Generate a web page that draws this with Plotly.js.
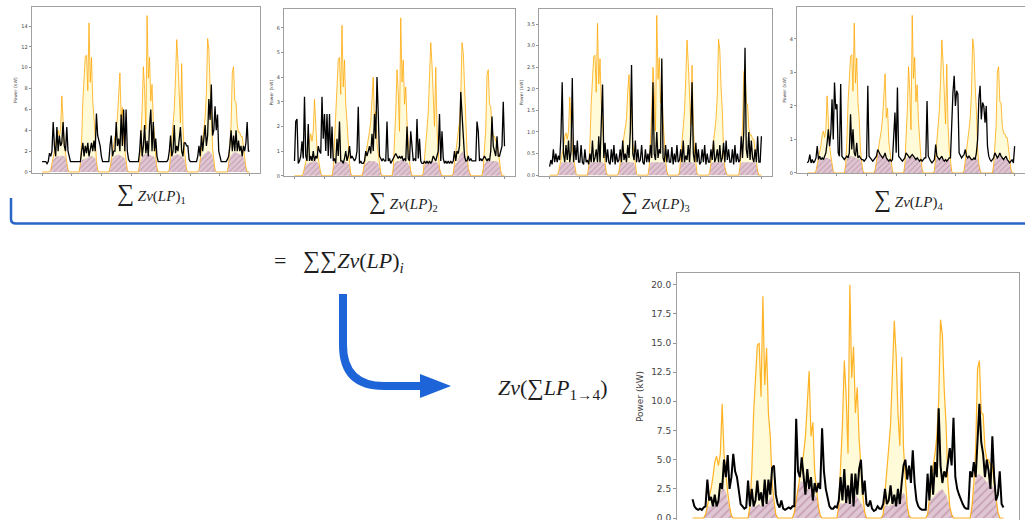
<!DOCTYPE html>
<html><head><meta charset="utf-8">
<script src="https://cdn.plot.ly/plotly-3.0.1.min.js"></script>
<style>html,body{margin:0;padding:0;background:#fff;}#chart{width:1025px;height:520px;}</style>
</head><body><div id="chart"></div>
<script>
// hour index (7 days x 24 h + end point)
const hours = Array.from({length:169}, (_, i) => i);
const dayTicks = [0,24,48,72,96,120,144,168];

// ---- Chart 1 ----
const pv1 = [
0,0,0,0,0,0,0, 0.2,0.8,1.4,1.9,2.6,3.6,4.0,3.4,4.1,7.3,4.1,2.6,1.7,0.8,0.2, 0,0,
0,0,0,0,0,0,0, 0.8,3.0,6.8,9.0,11.1,11.2,7.8,14.3,8.6,11.0,6.8,5.3,2.3,1.1,0.2, 0,0,
0,0,0,0,0,0,0, 0.4,1.1,1.9,2.6,3.4,4.1,5.3,7.9,9.5,5.3,6.2,3.0,1.9,0.8,0.2, 0,0,
0,0,0,0,0,0,0, 0.8,3.0,6.0,10.1,7.9,4.1,15.0,9.0,11.0,6.8,8.4,5.1,3.0,1.5,0.4, 0,0,
0,0,0,0,0,0,0, 0.2,1.5,3.0,4.5,6.0,9.0,12.7,10.5,6.8,4.7,10.4,4.5,2.3,0.8,0.2, 0,0,
0,0,0,0,0,0,0, 0.2,1.1,2.3,3.4,4.1,5.3,7.5,12.8,11.8,8.3,6.0,2.3,0.8,0.2,0, 0,0,
0,0,0,0,0,0,0, 0.8,2.3,4.5,9.6,10.1,6.8,6.7,4.5,3.8,3.8,3.4,3.4,2.3,1.1,0.4, 0,0, 0];
const load1 = [
1.0,1.0,1.0,1.0,0.8,1.0,1.8,1.5,2.0,4.8,2.5,1.5,4.3,2.0,3.5,2.5,2.8,4.8,2.5,2.0,4.3,2.0,1.5,1.0,
1.0,1.0,1.0,1.0,1.0,1.0,1.0,1.0,2.0,2.8,1.5,2.5,1.8,2.8,1.5,2.2,2.8,2.0,3.0,2.0,5.6,3.5,3.0,2.5,
1.5,1.0,1.0,1.0,1.0,1.0,1.0,2.5,3.5,1.5,2.0,2.0,4.8,2.5,3.2,2.0,5.5,2.5,6.0,2.0,6.0,2.0,1.2,1.0,
1.0,1.0,1.0,1.0,1.0,1.0,1.0,2.0,4.0,1.5,2.5,4.5,1.8,3.0,1.5,4.5,6.0,2.0,4.8,2.0,3.2,1.5,1.0,1.0,
1.0,1.0,1.0,1.0,1.0,1.0,1.2,2.0,3.5,1.5,2.0,4.5,1.8,2.5,2.0,3.0,4.3,2.0,1.5,2.8,2.8,2.5,2.5,1.2,
1.0,1.0,1.0,1.0,1.0,1.0,1.5,2.5,1.5,3.5,2.0,3.0,4.5,2.5,3.5,7.0,5.0,8.4,3.5,4.0,6.3,4.0,5.5,2.0,
1.5,1.0,1.0,1.0,1.0,1.0,1.2,1.5,2.5,4.0,2.0,3.5,2.0,4.0,2.0,3.0,2.0,2.5,1.5,2.5,2.0,2.8,4.8,2.0, 2.0];
const self1 = [
0,0,0,0,0,0,0, 0.2,0.8,1.2,1.3,1.4,1.5,1.5,1.5,1.5,1.6,1.5,1.5,1.4,0.8,0.2, 0,0,
0,0,0,0,0,0,0, 0.8,1.1,1.2,1.2,1.3,1.3,1.4,1.4,1.5,1.5,1.5,1.4,1.3,1.0,0.2, 0,0,
0,0,0,0,0,0,0, 0.4,1.1,1.3,1.4,1.5,1.6,1.6,1.7,1.6,1.5,1.5,1.4,1.3,0.8,0.2, 0,0,
0,0,0,0,0,0,0, 0.8,1.3,1.5,1.6,1.7,1.7,1.8,1.8,1.7,1.6,1.5,1.5,1.4,1.0,0.4, 0,0,
0,0,0,0,0,0,0, 0.2,1.2,1.4,1.5,1.6,1.6,1.7,1.7,1.6,1.6,1.5,1.4,1.3,0.8,0.2, 0,0,
0,0,0,0,0,0,0, 0.2,1.1,1.4,1.5,1.7,1.8,1.9,2.0,2.0,1.9,1.8,1.5,0.8,0.2,0, 0,0,
0,0,0,0,0,0,0, 0.8,1.4,1.6,1.8,1.9,1.9,1.9,1.8,1.8,1.7,1.6,1.5,1.4,1.0,0.4, 0,0, 0];

// ---- Chart 2 ----
const pv2 = [
0,0,0,0,0,0,0, 0.1,0.3,0.6,0.8,1.1,1.5,1.7,1.4,1.8,3.1,1.8,1.1,0.7,0.3,0.1, 0,0,
0,0,0,0,0,0,0, 0.3,1.3,2.9,3.8,4.7,4.8,3.3,6.1,3.6,4.7,2.9,2.2,1.0,0.5,0.1, 0,0,
0,0,0,0,0,0,0, 0.2,0.5,0.8,1.1,1.4,1.8,2.2,3.4,4.0,2.2,2.6,1.3,0.8,0.3,0.1, 0,0,
0,0,0,0,0,0,0, 0.3,1.3,2.6,4.3,3.4,1.8,6.4,3.8,4.7,2.9,3.6,2.2,1.3,0.6,0.2, 0,0,
0,0,0,0,0,0,0, 0.1,0.6,1.3,1.9,2.6,3.8,5.4,4.5,2.9,2.0,4.4,1.9,1.0,0.3,0.1, 0,0,
0,0,0,0,0,0,0, 0.1,0.5,1.0,1.4,1.8,2.2,3.2,5.4,5.0,3.5,2.6,1.0,0.3,0.1,0, 0,0,
0,0,0,0,0,0,0, 0.3,1.0,1.9,4.1,4.3,2.9,2.8,1.9,1.6,1.6,1.4,1.4,1.0,0.5,0.2, 0,0, 0];
const load2 = [
0.6,2.2,2.3,0.5,0.6,0.8,1.4,0.7,3.2,0.8,0.6,2.1,0.6,0.8,0.6,1.0,0.6,0.8,0.7,1.2,1.0,0.9,3.2,1.5,
2.5,1.0,2.5,0.8,2.5,0.7,2.0,0.6,0.7,0.5,1.5,0.8,2.2,0.6,0.6,0.5,0.7,1.0,0.6,0.8,1.2,0.7,0.8,0.7,
0.6,0.7,1.0,2.8,0.5,0.6,0.5,0.5,0.6,1.0,0.8,1.0,1.2,0.9,1.7,1.0,2.5,1.5,4.0,2.5,0.8,0.7,0.6,0.7,
0.6,0.6,2.2,0.6,0.7,0.5,0.6,0.7,0.8,0.9,0.8,0.7,0.8,0.7,0.8,0.6,0.7,0.6,2.0,0.7,0.6,1.8,1.2,0.6,
0.7,0.6,2.3,0.7,1.5,0.6,0.5,0.5,0.6,0.5,0.6,0.5,0.6,0.5,0.6,0.8,0.7,0.6,0.8,1.0,2.5,0.6,1.8,0.7,
0.5,0.6,0.5,0.6,0.5,0.6,0.5,0.6,1.0,0.6,1.0,0.9,1.2,3.4,2.5,1.3,0.8,0.6,0.6,0.8,0.6,0.7,0.6,0.6,
0.6,0.6,2.2,1.8,0.6,0.7,0.6,0.7,0.8,0.7,0.6,0.7,0.6,1.0,2.4,1.2,1.0,0.8,1.6,0.8,0.8,1.0,1.2,3.0, 1.2];
const self2 = [
0,0,0,0,0,0,0, 0.1,0.3,0.45,0.5,0.5,0.55,0.55,0.55,0.6,0.6,0.6,0.55,0.5,0.3,0.1, 0,0,
0,0,0,0,0,0,0, 0.3,0.45,0.5,0.55,0.55,0.55,0.6,0.6,0.6,0.6,0.55,0.55,0.5,0.4,0.1, 0,0,
0,0,0,0,0,0,0, 0.2,0.45,0.5,0.55,0.6,0.6,0.6,0.6,0.6,0.6,0.55,0.55,0.5,0.3,0.1, 0,0,
0,0,0,0,0,0,0, 0.3,0.5,0.55,0.6,0.6,0.6,0.65,0.65,0.6,0.6,0.6,0.55,0.5,0.4,0.15, 0,0,
0,0,0,0,0,0,0, 0.1,0.45,0.5,0.55,0.55,0.55,0.6,0.6,0.6,0.55,0.55,0.55,0.5,0.3,0.1, 0,0,
0,0,0,0,0,0,0, 0.1,0.4,0.5,0.55,0.7,0.8,0.9,1.0,0.9,0.8,0.7,0.6,0.3,0.1,0, 0,0,
0,0,0,0,0,0,0, 0.3,0.5,0.55,0.6,0.6,0.6,0.6,0.6,0.6,0.6,0.6,0.6,0.55,0.4,0.15, 0,0, 0];

// ---- Chart 3 ----
const pv3 = [
0,0,0,0,0,0,0, 0.06,0.19,0.33,0.46,0.65,0.89,0.98,0.83,1.02,1.81,1.02,0.65,0.41,0.19,0.04, 0,0,
0,0,0,0,0,0,0, 0.19,0.74,1.67,2.22,2.74,2.78,1.92,3.52,2.11,2.70,1.67,1.30,0.56,0.28,0.06, 0,0,
0,0,0,0,0,0,0, 0.09,0.28,0.46,0.65,0.83,1.02,1.30,1.94,2.33,1.30,1.52,0.74,0.46,0.19,0.04, 0,0,
0,0,0,0,0,0,0, 0.19,0.74,1.48,2.50,1.94,1.02,3.70,2.22,2.72,1.67,2.07,1.26,0.74,0.37,0.09, 0,0,
0,0,0,0,0,0,0, 0.06,0.37,0.74,1.11,1.48,2.22,3.13,2.59,1.67,1.15,2.55,1.11,0.56,0.19,0.04, 0,0,
0,0,0,0,0,0,0, 0.06,0.28,0.56,0.83,1.02,1.30,1.85,3.15,2.90,2.04,1.48,0.56,0.19,0.06,0, 0,0,
0,0,0,0,0,0,0, 0.19,0.56,1.11,2.37,2.50,1.67,1.65,1.11,0.93,0.93,0.83,0.83,0.56,0.28,0.09, 0,0, 0];
const load3 = [
0.2,0.35,0.25,0.6,0.3,0.5,0.3,0.45,0.35,0.9,2.15,0.5,0.3,0.7,0.35,0.8,0.3,0.55,2.25,0.3,0.7,0.35,0.8,0.3,
0.3,0.7,0.3,0.25,0.6,0.3,0.35,0.25,0.5,0.3,0.8,0.3,0.4,0.6,0.3,0.9,0.3,1.45,2.1,0.4,0.75,0.3,0.6,0.3,
0.25,0.6,0.3,0.7,0.25,0.5,0.3,0.35,0.6,0.3,0.8,0.35,0.5,0.3,0.7,0.4,1.0,2.55,0.5,0.35,0.8,0.3,0.6,0.3,
0.35,0.7,0.3,0.25,0.6,0.3,0.5,0.3,0.7,0.4,2.15,0.5,0.35,1.0,0.4,0.6,0.5,2.7,0.4,0.3,0.7,0.3,0.6,0.3,
0.3,0.65,0.25,0.5,0.3,0.7,0.3,0.35,0.6,0.3,0.8,0.3,0.45,0.35,0.7,0.3,1.0,2.15,0.5,0.3,0.75,0.3,0.6,0.25,
0.3,0.6,0.3,0.7,0.25,0.5,0.3,0.3,0.6,0.35,0.8,0.3,0.4,0.6,0.3,0.7,0.3,0.4,0.75,0.3,0.8,0.35,0.6,0.3,
0.3,0.6,0.25,0.7,0.3,0.5,0.3,0.35,0.9,0.4,1.0,2.95,0.6,0.4,1.0,0.35,0.8,0.4,0.3,0.6,0.3,0.9,0.3,0.3, 0.9];
const self3 = [
0,0,0,0,0,0,0, 0.06,0.19,0.28,0.3,0.3,0.3,0.3,0.3,0.3,0.3,0.3,0.3,0.28,0.19,0.04, 0,0,
0,0,0,0,0,0,0, 0.19,0.28,0.3,0.3,0.3,0.3,0.3,0.3,0.3,0.3,0.3,0.3,0.28,0.25,0.06, 0,0,
0,0,0,0,0,0,0, 0.09,0.25,0.3,0.3,0.3,0.3,0.3,0.3,0.3,0.3,0.3,0.3,0.28,0.19,0.04, 0,0,
0,0,0,0,0,0,0, 0.19,0.28,0.3,0.3,0.3,0.3,0.3,0.3,0.3,0.3,0.3,0.3,0.3,0.25,0.09, 0,0,
0,0,0,0,0,0,0, 0.06,0.28,0.3,0.3,0.3,0.3,0.3,0.3,0.3,0.3,0.3,0.3,0.28,0.19,0.04, 0,0,
0,0,0,0,0,0,0, 0.06,0.25,0.3,0.3,0.3,0.3,0.3,0.3,0.3,0.3,0.3,0.3,0.19,0.06,0, 0,0,
0,0,0,0,0,0,0, 0.19,0.28,0.3,0.3,0.3,0.3,0.3,0.3,0.3,0.3,0.3,0.3,0.3,0.25,0.09, 0,0, 0];

// ---- Chart 4 ----
const pv4 = [
0,0,0,0,0,0,0, 0.07,0.24,0.42,0.59,0.82,1.13,1.25,1.06,1.29,2.30,1.29,0.82,0.52,0.24,0.05, 0,0,
0,0,0,0,0,0,0, 0.24,0.94,2.12,2.82,3.48,3.53,2.44,4.47,2.68,3.43,2.12,1.65,0.71,0.35,0.07, 0,0,
0,0,0,0,0,0,0, 0.12,0.35,0.59,0.82,1.06,1.29,1.65,2.47,2.96,1.65,1.93,0.94,0.59,0.24,0.05, 0,0,
0,0,0,0,0,0,0, 0.24,0.94,1.88,3.17,2.47,1.29,4.70,2.82,3.45,2.12,2.63,1.60,0.94,0.47,0.12, 0,0,
0,0,0,0,0,0,0, 0.07,0.47,0.94,1.41,1.88,2.82,3.97,3.29,2.12,1.46,3.24,1.41,0.71,0.24,0.05, 0,0,
0,0,0,0,0,0,0, 0.07,0.35,0.71,1.06,1.29,1.65,2.35,4.00,3.69,2.59,1.88,0.71,0.24,0.07,0, 0,0,
0,0,0,0,0,0,0, 0.24,0.71,1.41,3.01,3.17,2.12,2.09,1.41,1.18,1.18,1.06,1.06,0.71,0.35,0.12, 0,0, 0];
const load4 = [
0.3,0.35,0.55,0.3,0.4,0.3,0.35,0.45,0.8,0.4,0.5,0.4,0.45,0.4,0.5,0.6,0.9,1.3,0.8,1.2,2.2,1.0,2.7,1.9,
2.05,0.6,0.5,2.65,0.5,0.45,0.4,0.45,0.5,0.45,0.6,1.75,0.7,1.3,0.6,0.5,0.9,0.45,0.5,0.45,0.4,0.4,0.35,0.4,
0.45,2.6,0.5,0.45,0.4,0.35,0.4,0.45,0.5,0.7,0.6,0.55,0.5,0.45,0.5,0.6,0.45,0.4,0.35,0.4,0.35,0.4,1.0,1.8,
0.6,2.55,0.5,0.45,0.4,0.35,0.4,0.45,0.6,0.55,0.5,0.45,0.5,0.55,0.5,0.45,0.4,0.45,0.4,0.35,0.4,0.35,0.4,0.45,
0.45,2.15,0.5,0.4,0.35,0.3,0.35,0.4,0.85,0.5,0.45,0.4,0.45,0.5,0.4,0.35,0.4,0.35,0.4,0.45,0.45,1.5,2.4,2.9,
2.0,2.45,2.35,0.6,0.5,0.45,0.5,0.55,0.7,0.5,0.45,0.5,0.45,0.4,0.4,0.45,0.4,0.6,1.0,2.2,2.6,1.6,2.1,2.0,
1.5,2.0,0.8,0.5,0.4,0.35,0.4,0.45,0.6,0.5,0.45,0.5,0.6,0.5,0.45,0.4,0.45,0.5,0.4,0.35,0.3,0.35,0.4,0.3, 0.8];
const self4 = [
0,0,0,0,0,0,0, 0.07,0.24,0.38,0.4,0.42,0.42,0.45,0.45,0.45,0.45,0.45,0.42,0.4,0.24,0.05, 0,0,
0,0,0,0,0,0,0, 0.24,0.4,0.45,0.5,0.5,0.5,0.5,0.48,0.45,0.45,0.42,0.4,0.4,0.3,0.07, 0,0,
0,0,0,0,0,0,0, 0.12,0.35,0.55,0.6,0.6,0.55,0.5,0.5,0.45,0.45,0.42,0.4,0.38,0.24,0.05, 0,0,
0,0,0,0,0,0,0, 0.24,0.42,0.45,0.5,0.5,0.5,0.5,0.45,0.45,0.42,0.42,0.4,0.4,0.3,0.12, 0,0,
0,0,0,0,0,0,0, 0.07,0.4,0.45,0.45,0.45,0.45,0.45,0.42,0.42,0.4,0.4,0.4,0.38,0.24,0.05, 0,0,
0,0,0,0,0,0,0, 0.07,0.35,0.45,0.5,0.5,0.5,0.5,0.5,0.48,0.45,0.45,0.4,0.24,0.07,0, 0,0,
0,0,0,0,0,0,0, 0.24,0.42,0.45,0.45,0.5,0.5,0.45,0.45,0.45,0.42,0.42,0.4,0.4,0.3,0.12, 0,0, 0];

// ---- Chart 5 (combined) ----
const pv5 = [
0,0,0,0,0,0,0, 0.3,1,1.8,2.5,3.5,4.8,5.3,4.5,5.5,9.8,5.5,3.5,2.2,1,0.2, 0,0,
0,0,0,0,0,0,0, 1,4,9,12,14.8,15,10.4,19,11.4,14.6,9,7,3,1.5,0.3, 0,0,
0,0,0,0,0,0,0, 0.5,1.5,2.5,3.5,4.5,5.5,7,10.5,12.6,7,8.2,4,2.5,1,0.2, 0,0,
0,0,0,0,0,0,0, 1,4,8,13.5,10.5,5.5,20,12,14.7,9,11.2,6.8,4,2,0.5, 0,0,
0,0,0,0,0,0,0, 0.3,2,4,6,8,12,16.9,14,9,6.2,13.8,6,3,1,0.2, 0,0,
0,0,0,0,0,0,0, 0.3,1.5,3,4.5,5.5,7,10,17,15.7,11,8,3,1,0.3,0, 0,0,
0,0,0,0,0,0,0, 1,3,6,12.8,13.5,9,8.9,6,5,5,4.5,4.5,3,1.5,0.5, 0,0, 0];
const load5 = [
1.6,1.0,0.8,0.7,0.8,0.7,0.9,1.0,3.3,1.5,1.8,1.0,2.0,1.0,1.5,3.0,2.5,5.0,3.5,5.4,2.5,3.5,5.5,4.0,
3.5,2.5,1.2,1.0,0.8,0.9,3.2,1.0,2.5,1.0,1.5,3.2,1.5,2.2,1.0,3.3,1.2,3.3,2.0,4.3,4.5,2.0,1.2,0.9,
1.5,0.8,0.7,0.8,0.9,0.8,1.0,1.0,8.5,4.0,3.5,5.2,3.5,2.0,4.2,2.5,3.5,1.5,3.0,2.2,3.0,2.5,7.7,4.0,
2.5,1.8,1.0,0.8,0.8,1.0,0.9,1.5,3.5,1.5,4.2,1.3,2.8,1.2,3.8,1.0,3.8,2.0,4.2,5.0,2.0,3.2,1.2,1.0,
1.5,0.8,0.6,0.7,1.0,0.8,0.8,1.2,2.5,1.2,1.5,2.8,1.2,2.0,1.0,2.5,1.2,3.0,4.5,5.0,3.3,4.5,3.0,5.8,
3.0,1.5,1.0,0.8,0.7,0.7,0.7,3.8,1.5,4.5,2.0,4.8,3.5,9.4,4.5,3.0,4.0,3.5,5.0,6.0,4.5,8.6,3.5,2.5,
2.0,1.5,1.2,0.9,0.8,0.8,4.0,3.5,4.8,3.5,6.5,9.8,6.5,5.5,3.5,5.0,4.0,2.5,7.0,3.5,1.5,2.0,4.0,1.2, 0.9];
const self5 = [
0,0,0,0,0,0,0, 0.3,0.9,1.0,1.0,1.1,1.2,1.3,1.5,2.0,2.5,2.5,2.3,1.5,0.8,0.2, 0,0,
0,0,0,0,0,0,0, 0.8,1.0,1.1,1.0,1.1,1.2,1.0,1.1,1.2,1.3,1.5,1.8,2.0,1.2,0.3, 0,0,
0,0,0,0,0,0,0, 0.5,1.5,2.5,3.0,3.2,3.0,2.8,2.5,2.7,2.5,2.2,2.0,1.8,1.0,0.2, 0,0,
0,0,0,0,0,0,0, 1.0,1.3,1.2,1.3,1.5,1.4,1.5,1.6,1.8,2.0,1.8,1.5,1.3,1.0,0.4, 0,0,
0,0,0,0,0,0,0, 0.3,1.0,1.1,1.0,1.2,1.1,1.2,1.3,1.5,1.6,2.0,2.2,1.8,0.9,0.2, 0,0,
0,0,0,0,0,0,0, 0.3,1.3,1.6,1.8,2.0,2.2,2.3,2.4,2.5,2.2,2.0,1.5,0.8,0.3,0, 0,0,
0,0,0,0,0,0,0, 1.0,2.5,3.5,3.7,3.8,3.6,3.5,3.3,3.0,3.2,3.0,2.8,2.5,1.5,0.5, 0,0, 0];

const yTicks1 = [0,2,4,6,8,10,12,14];
const yTicks2 = [0,1,2,3,4,5,6];
const yTicks3 = [0,0.5,1,1.5,2,2.5,3,3.5];
const yTicks4 = [0,1,2,3,4];
const yTicks5 = [0,2.5,5,7.5,10,12.5,15,17.5,20];

// ---------------- layout helpers ----------------
const W = 1025, H = 520;
const px = x => x / W;
const py = y => 1 - y / H;

const panels = [
  {pv:pv1, load:load1, self:self1, xd:[31.7,260], yd:[7.3,173], yr:[-0.1,15.8], ticks:yTicks1, fmt:'d', small:true},
  {pv:pv2, load:load2, self:self2, xd:[284,515], yd:[9.3,176], yr:[-0.01,6.75], ticks:yTicks2, fmt:'d', small:true},
  {pv:pv3, load:load3, self:self3, xd:[539,772], yd:[9,176], yr:[-0.02,3.85], ticks:yTicks3, fmt:'.1f', small:true},
  {pv:pv4, load:load4, self:self4, xd:[797,1025], yd:[6.7,173.3], yr:[-0.01,4.96], ticks:yTicks4, fmt:'d', small:true},
  {pv:pv5, load:load5, self:self5, xd:[677,1019], yd:[273,520], yr:[-0.17,21.0], ticks:yTicks5, fmt:'.1f', small:false}
];

const data = [];
const layout = {
  width: W, height: H, margin: {l:0, r:0, t:0, b:0},
  paper_bgcolor: '#fff', plot_bgcolor: '#fff', showlegend: false,
  font: {family: 'DejaVu Sans, sans-serif', color: '#444'},
  annotations: [], shapes: []
};

panels.forEach((p, i) => {
  const n = i === 0 ? '' : String(i + 1);
  const xa = 'x' + n, ya = 'y' + n;
  const selfC = p.self.map((v, k) => Math.min(v, p.pv[k], p.load[k]));
  data.push({x: hours, y: p.pv, xaxis: xa, yaxis: ya, mode: 'lines', fill: 'tozeroy',
             fillcolor: 'rgba(255,248,185,0.55)', line: {width: 0}, hoverinfo: 'skip'});
  data.push({x: hours, y: selfC, xaxis: xa, yaxis: ya, mode: 'lines', fill: 'tozeroy',
             fillcolor: '#dcc3cf',
             fillpattern: {shape: '/', bgcolor: '#dfc6d2', fgcolor: '#c49cae', size: p.small ? 4 : 6, solidity: 0.25},
             line: {width: 0}, hoverinfo: 'skip'});
  data.push({x: hours, y: p.pv, xaxis: xa, yaxis: ya, mode: 'lines',
             line: {color: 'rgba(255,165,0,0.85)', width: p.small ? 0.9 : 1.2}, hoverinfo: 'skip'});
  data.push({x: hours, y: p.load, xaxis: xa, yaxis: ya, mode: 'lines',
             line: {color: '#000', width: p.small ? 1.3 : 2}, hoverinfo: 'skip'});

  layout['xaxis' + n] = {
    domain: [px(p.xd[0]), px(p.xd[1])], anchor: ya, range: [-8.4, 176.4],
    showgrid: false, zeroline: false, showline: true, mirror: true, linecolor: '#a0a0a0', linewidth: 1,
    tickvals: dayTicks, showticklabels: false, ticks: 'outside', ticklen: p.small ? 2 : 3, tickcolor: '#777', tickwidth: 0.8
  };
  layout['yaxis' + n] = {
    domain: [py(p.yd[1]), py(p.yd[0])], anchor: xa, range: p.yr,
    showgrid: false, zeroline: false, showline: true, mirror: true, linecolor: '#a0a0a0', linewidth: 1,
    tickvals: p.ticks, tickformat: p.fmt, ticks: 'outside', ticklen: p.small ? 2 : 3, tickcolor: '#777', tickwidth: 0.8,
    ticklabeloverflow: 'allow',
    tickfont: {size: p.small ? 5 : 9, color: '#444'},
    title: {text: 'Power (kW)', font: {size: p.small ? 4.5 : 9, color: '#444'}, standoff: p.small ? 3 : 6}
  };
});

// ---------------- text labels ----------------
const serif = 'Liberation Serif, DejaVu Serif, serif';
const sumLab = k => '<span style="font-size:24px">∑</span> <i>Zv</i>(<i>LP</i>)<sub>' + k + '</sub>';
const labels = [
  {x: 151, y: 193, t: sumLab(1), s: 15},
  {x: 403, y: 202, t: sumLab(2), s: 15},
  {x: 655, y: 202, t: sumLab(3), s: 15},
  {x: 908, y: 200, t: sumLab(4), s: 15},
  {x: 339, y: 261, t: '=   <span style="font-size:24px">∑∑</span><i>Zv</i>(<i>LP</i>)<sub><i>i</i></sub>', s: 22},
  {x: 553, y: 389, t: '<i>Zv</i>(<span style="font-size:23px">∑</span><i>LP</i><sub>1→4</sub>)', s: 22}
];
labels.forEach(l => layout.annotations.push({
  xref: 'paper', yref: 'paper', x: px(l.x), y: py(l.y), xanchor: 'center', yanchor: 'middle',
  text: l.t, showarrow: false, font: {family: serif, size: l.s, color: '#1e1e1e'}
}));

// ---------------- bracket & arrow ----------------
const blue = '#1d64d8';
layout.shapes.push({
  type: 'path', xref: 'paper', yref: 'paper',
  path: `M ${px(11)},${py(198)} L ${px(11)},${py(219)} Q ${px(11)},${py(223.5)} ${px(16)},${py(223.5)} L ${px(1025)},${py(223.5)}`,
  line: {color: '#2a66c6', width: 2.5}
});
layout.shapes.push({
  type: 'path', xref: 'paper', yref: 'paper',
  path: `M ${px(343)},${py(294)} L ${px(343)},${py(345)} Q ${px(343)},${py(386)} ${px(384)},${py(386)} L ${px(424)},${py(386)}`,
  line: {color: blue, width: 8}
});
layout.shapes.push({
  type: 'path', xref: 'paper', yref: 'paper',
  path: `M ${px(420)},${py(374)} L ${px(451)},${py(386)} L ${px(420)},${py(398)} Z`,
  fillcolor: blue, line: {width: 0}
});

Plotly.newPlot('chart', data, layout, {staticPlot: true, displayModeBar: false});
</script>
</body></html>
